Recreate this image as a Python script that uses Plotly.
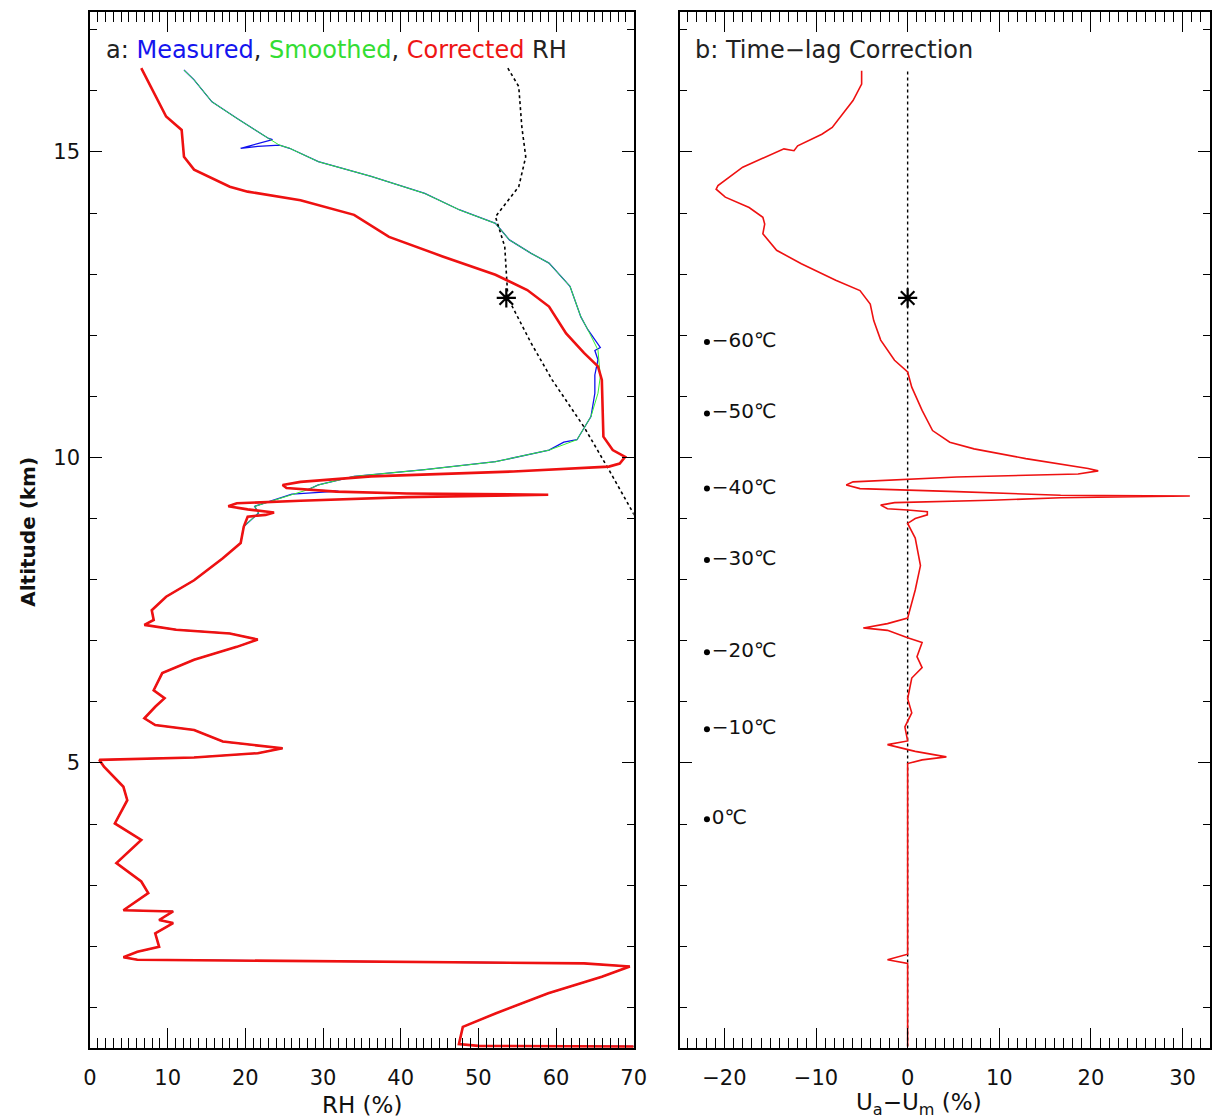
import plotly.graph_objects as go

# ---------------- data ----------------
# Shared lower profile (identical for measured, smoothed and corrected), top -> bottom
lower_rh = [19.8, 19.4, 17.1, 13.4, 9.8, 7.95, 8.2, 7.0, 11.1, 18.0, 21.6, 18.9, 13.4, 9.3, 8.2,
            9.6, 8.4, 7.0, 8.4, 13.4, 17.1, 24.8, 21.6, 13.4, 1.2, 1.8, 4.3, 4.8, 3.2, 6.6, 3.4,
            6.6, 7.5, 4.3, 10.7, 8.9, 10.7, 8.4, 8.9, 6.1, 4.3, 6.1, 36.2, 63.6, 69.5, 65.9,
            59.0, 52.2, 48.0, 47.6, 47.5, 50.0, 60.0, 70.0]
lower_alt = [8.87, 8.60, 8.35, 7.99, 7.72, 7.50, 7.34, 7.26, 7.18, 7.12, 7.02, 6.90, 6.69, 6.47, 6.19,
             6.06, 5.92, 5.73, 5.62, 5.54, 5.35, 5.24, 5.16, 5.09, 5.05, 4.94, 4.61, 4.39, 4.01, 3.74, 3.36,
             3.06, 2.87, 2.59, 2.57, 2.43, 2.38, 2.21, 1.99, 1.91, 1.82, 1.78, 1.75, 1.72, 1.67, 1.50,
             1.23, 0.90, 0.68, 0.49, 0.40, 0.37, 0.36, 0.36]

# Upper part of each series, top -> bottom
corr_rh = [6.6, 7.5, 9.3, 9.8, 11.8, 12.1, 13.4, 18.0, 20.3, 27.1, 34.0, 38.5, 45.4, 52.2, 56.3,
           59.1, 61.3, 63.6, 65.4, 65.9, 66.1, 67.3, 68.9, 68.2, 66.8, 54.5, 36.2, 27.1, 24.8, 25.3,
           31.7, 40.8, 59.0, 40.8, 27.1, 18.9, 17.8, 20.3, 23.7, 22.6, 20.3]
corr_alt = [16.37, 16.15, 15.69, 15.58, 15.36, 14.92, 14.71, 14.43, 14.35, 14.21, 13.97, 13.61, 13.29, 12.99, 12.74,
            12.47, 12.03, 11.71, 11.49, 11.27, 10.34, 10.12, 10.01, 9.90, 9.85, 9.77, 9.69, 9.60, 9.55, 9.50,
            9.44, 9.41, 9.39, 9.35, 9.29, 9.25, 9.20, 9.15, 9.10, 9.06, 9.03]

smooth_rh = [12.1, 13.4, 15.7, 18.9, 23.0, 24.4, 25.7, 29.4, 36.2, 43.1, 47.6, 52.2, 54.0, 56.8, 59.1,
             61.8, 63.2, 64.1, 65.4, 65.7, 65.4, 64.5, 62.7, 59.1, 52.2, 43.1, 34.0, 29.4, 28.0, 23.7,
             21.2, 21.7]
smooth_alt = [16.34, 16.18, 15.82, 15.55, 15.22, 15.11, 15.06, 14.84, 14.60, 14.32, 14.05, 13.83, 13.56, 13.34, 13.18,
              12.80, 12.30, 12.09, 11.76, 11.32, 11.05, 10.67, 10.29, 10.12, 9.93, 9.80, 9.69, 9.55, 9.47, 9.30,
              9.20, 9.09]

meas_rh = [12.1, 13.4, 15.7, 18.9, 23.0, 23.5, 19.4, 21.6, 24.4, 25.7, 29.4, 36.2, 43.1, 47.6, 52.2,
           54.0, 56.8, 59.1, 61.8, 63.2, 64.1, 65.7, 65.0, 65.4, 65.0, 65.0, 64.5, 62.7, 61.0, 59.1,
           52.2, 43.1, 34.0, 29.4, 28.0, 32.0, 26.0, 23.7, 21.2, 21.7]
meas_alt = [16.34, 16.18, 15.82, 15.55, 15.22, 15.20, 15.06, 15.09, 15.11, 15.06, 14.84, 14.60, 14.32, 14.05, 13.83,
            13.56, 13.34, 13.18, 12.80, 12.30, 12.09, 11.80, 11.75, 11.60, 11.35, 11.05, 10.67, 10.29, 10.25, 10.12,
            9.93, 9.80, 9.69, 9.55, 9.47, 9.45, 9.40, 9.30, 9.20, 9.09]

# Dotted black curve in panel a
dot_rh = [53.8, 55.2, 55.6, 56.1, 55.2, 52.2, 53.4, 53.8, 56.8, 59.5, 63.6, 66.8, 70.2, 71.0]
dot_alt = [16.37, 16.07, 15.41, 14.92, 14.43, 13.94, 13.45, 12.61, 11.87, 11.27, 10.50, 9.80, 9.03, 8.90]

# Star (asterisk) marker
star_rh = [53.6]
star_u = [0.0]
star_alt = [12.61]

# Panel b: time-lag correction Ua - Um, top -> bottom
diff_u = [-5.02, -5.02, -5.96, -8.23, -9.36, -12.0, -12.4, -13.5, -18.0, -20.7, -20.9, -19.9, -17.3, -15.8,
          -15.6, -15.8, -14.3, -11.6, -7.85, -5.2, -4.08, -3.7, -2.94, -1.43, 0.0, 0.45, 1.58, 2.72, 4.6,
          7.25, 12.9, 19.7, 20.8, 18.6, 5.36, -5.96, -6.7, -5.2, 5.36, 16.7, 30.8, 16.7, 9.1, -1.43, -2.94,
          -2.2, 0.0, 2.15, 2.15, 0.83, 0.0, 0.83, 1.4, 0.83, 0.0, -2.2, -4.83, -2.2, 0.0, 1.58, 1.02, 1.58,
          0.45, 0.0, 0.45, -0.3, 0.0, -2.2, 0.83, 4.23, 1.58, 0.0, 0.0, -2.2, 0.0, 0.0]
diff_alt = [16.33, 16.11, 15.84, 15.40, 15.29, 15.10, 15.02, 15.05, 14.75, 14.45, 14.39, 14.26, 14.09, 13.93,
            13.82, 13.66, 13.39, 13.17, 12.90, 12.73, 12.51, 12.24, 11.92, 11.59, 11.40, 11.15, 10.77, 10.44, 10.25,
            10.14, 9.98, 9.82, 9.78, 9.73, 9.68, 9.60, 9.55, 9.49, 9.44, 9.38, 9.37, 9.34, 9.30, 9.26, 9.22,
            9.16, 9.14, 9.11, 9.06, 9.00, 8.92, 8.68, 8.23, 7.83, 7.37, 7.28, 7.21, 7.17, 7.05, 6.97, 6.74, 6.56,
            6.39, 6.05, 5.82, 5.59, 5.36, 5.30, 5.19, 5.10, 5.05, 4.99, 1.87, 1.78, 1.72, 0.36]

zero_u = [0, 0]
zero_alt = [0.36, 16.35]

# Temperature level labels (panel b)
temp_alt = [11.89, 10.72, 9.49, 8.32, 6.81, 5.55, 4.08]
temp_labels = ["\u221260\u2103", "\u221250\u2103", "\u221240\u2103", "\u221230\u2103",
               "\u221220\u2103", "\u221210\u2103", "0\u2103"]
TEMP_U = -21.9

rh_ticks = [0, 10, 20, 30, 40, 50, 60, 70]
u_ticks = [-20, -10, 0, 10, 20, 30]
alt_ticks = [5, 10, 15]

# ---------------- figure ----------------
FONT = "DejaVu Sans"
W, H = 1223, 1120
ML, MR, MT, MB = 90, 0, 12, 72
PW, PH = W - ML - MR, H - MT - MB


def px_x(p):
    return (p - ML) / PW


def px_y(p):
    return 1 - (p - MT) / PH


fig = go.Figure()

meas_x = meas_rh + lower_rh
meas_y = meas_alt + lower_alt
smooth_x = smooth_rh + lower_rh
smooth_y = smooth_alt + lower_alt
corr_x = corr_rh + lower_rh
corr_y = corr_alt + lower_alt

fig.add_trace(go.Scatter(x=meas_x, y=meas_y, mode="lines", line=dict(color="#1010ee", width=1.3),
                         xaxis="x", yaxis="y", showlegend=False))
fig.add_trace(go.Scatter(x=smooth_x, y=smooth_y, mode="lines", line=dict(color="#33ee33", width=1.0),
                         xaxis="x", yaxis="y", showlegend=False))
fig.add_trace(go.Scatter(x=dot_rh, y=dot_alt, mode="lines", line=dict(color="black", width=1.6, dash="dot"),
                         xaxis="x", yaxis="y", showlegend=False))
fig.add_trace(go.Scatter(x=corr_x, y=corr_y, mode="lines", line=dict(color="#ee1111", width=2.6),
                         xaxis="x", yaxis="y", showlegend=False))
fig.add_trace(go.Scatter(x=star_rh, y=star_alt, mode="markers",
                         marker=dict(symbol="asterisk-open", size=16, color="black",
                                     line=dict(color="black", width=2.2)),
                         xaxis="x", yaxis="y", showlegend=False))

# panel b
fig.add_trace(go.Scatter(x=zero_u, y=zero_alt, mode="lines", line=dict(color="black", width=1.4, dash="dot"),
                         xaxis="x2", yaxis="y2", showlegend=False))
fig.add_trace(go.Scatter(x=diff_u, y=diff_alt, mode="lines", line=dict(color="#ee1111", width=1.6),
                         xaxis="x2", yaxis="y2", showlegend=False))
fig.add_trace(go.Scatter(x=star_u, y=star_alt, mode="markers",
                         marker=dict(symbol="asterisk-open", size=16, color="black",
                                     line=dict(color="black", width=2.2)),
                         xaxis="x2", yaxis="y2", showlegend=False))
fig.add_trace(go.Scatter(x=[TEMP_U] * len(temp_alt), y=temp_alt, mode="markers+text",
                         text=temp_labels, textposition="middle right",
                         textfont=dict(family=FONT, size=20, color="#111111"),
                         marker=dict(color="black", size=6),
                         xaxis="x2", yaxis="y2", showlegend=False))

axis_common = dict(showline=True, linecolor="black", linewidth=1.5, mirror="ticks",
                   ticks="inside", tickcolor="black", showgrid=False, zeroline=False,
                   tickfont=dict(family=FONT, size=21, color="#111111"))

fig.update_layout(
    width=W, height=H, autosize=False,
    margin=dict(l=ML, r=MR, t=MT, b=MB),
    paper_bgcolor="white", plot_bgcolor="white",
    font=dict(family=FONT, color="#111111"),
    xaxis=dict(domain=[0, px_x(640)], range=[0, 70], tickvals=rh_ticks, ticklen=20, tickwidth=1.2,
               minor=dict(dtick=1, ticklen=10, ticks="inside", tickcolor="black", tickwidth=1),
               ticklabelstandoff=10, anchor="y", **axis_common),
    yaxis=dict(domain=[0, 1], range=[0.335, 17.29], tickvals=alt_ticks, ticklen=12, tickwidth=1.2,
               minor=dict(dtick=1, ticklen=7, ticks="inside", tickcolor="black", tickwidth=1),
               ticklabelstandoff=4, anchor="x", **axis_common),
    xaxis2=dict(domain=[px_x(686.6), 1], range=[-24.87, 33.0], tickvals=u_ticks, ticklen=20, tickwidth=1.2,
                minor=dict(dtick=1, ticklen=10, ticks="inside", tickcolor="black", tickwidth=1),
                ticklabelstandoff=10, anchor="y2", **axis_common),
    yaxis2=dict(domain=[0, 1], range=[0.335, 17.29], tickvals=alt_ticks, ticklen=12, tickwidth=1.2,
                minor=dict(dtick=1, ticklen=7, ticks="inside", tickcolor="black", tickwidth=1),
                showticklabels=False, anchor="x2", **axis_common),
)

annots = [
    dict(text=("a: <span style='color:#1515ee'>Measured</span>, "
               "<span style='color:#33dd33'>Smoothed</span>, "
               "<span style='color:#ee1515'>Corrected</span> RH"),
         x=px_x(104), y=px_y(50), xanchor="left", yanchor="middle",
         font=dict(family=FONT, size=24, color="#222222")),
    dict(text="b: Time\u2212lag Correction", x=px_x(700), y=px_y(50), xanchor="left", yanchor="middle",
         font=dict(family=FONT, size=24, color="#222222")),
    dict(text="RH (%)", x=px_x(365), y=px_y(1105), xanchor="center", yanchor="middle",
         font=dict(family=FONT, size=23, color="#111111")),
    dict(text="U<sub>a</sub>\u2212U<sub>m</sub> (%)", x=px_x(929), y=px_y(1104), xanchor="center",
         yanchor="middle", font=dict(family=FONT, size=23, color="#111111")),
    dict(text="<b>Altitude (km)</b>", x=px_x(27), y=px_y(532), xanchor="center", yanchor="middle",
         textangle=-90, font=dict(family=FONT, size=20, color="#111111")),
]
for a in annots:
    a.update(xref="paper", yref="paper", showarrow=False)
    fig.add_annotation(**a)

fig.write_html(
    "out.html",
    config={"displayModeBar": False, "responsive": False},
    post_script="document.body.style.margin='0';document.body.style.overflow='hidden';",
)
